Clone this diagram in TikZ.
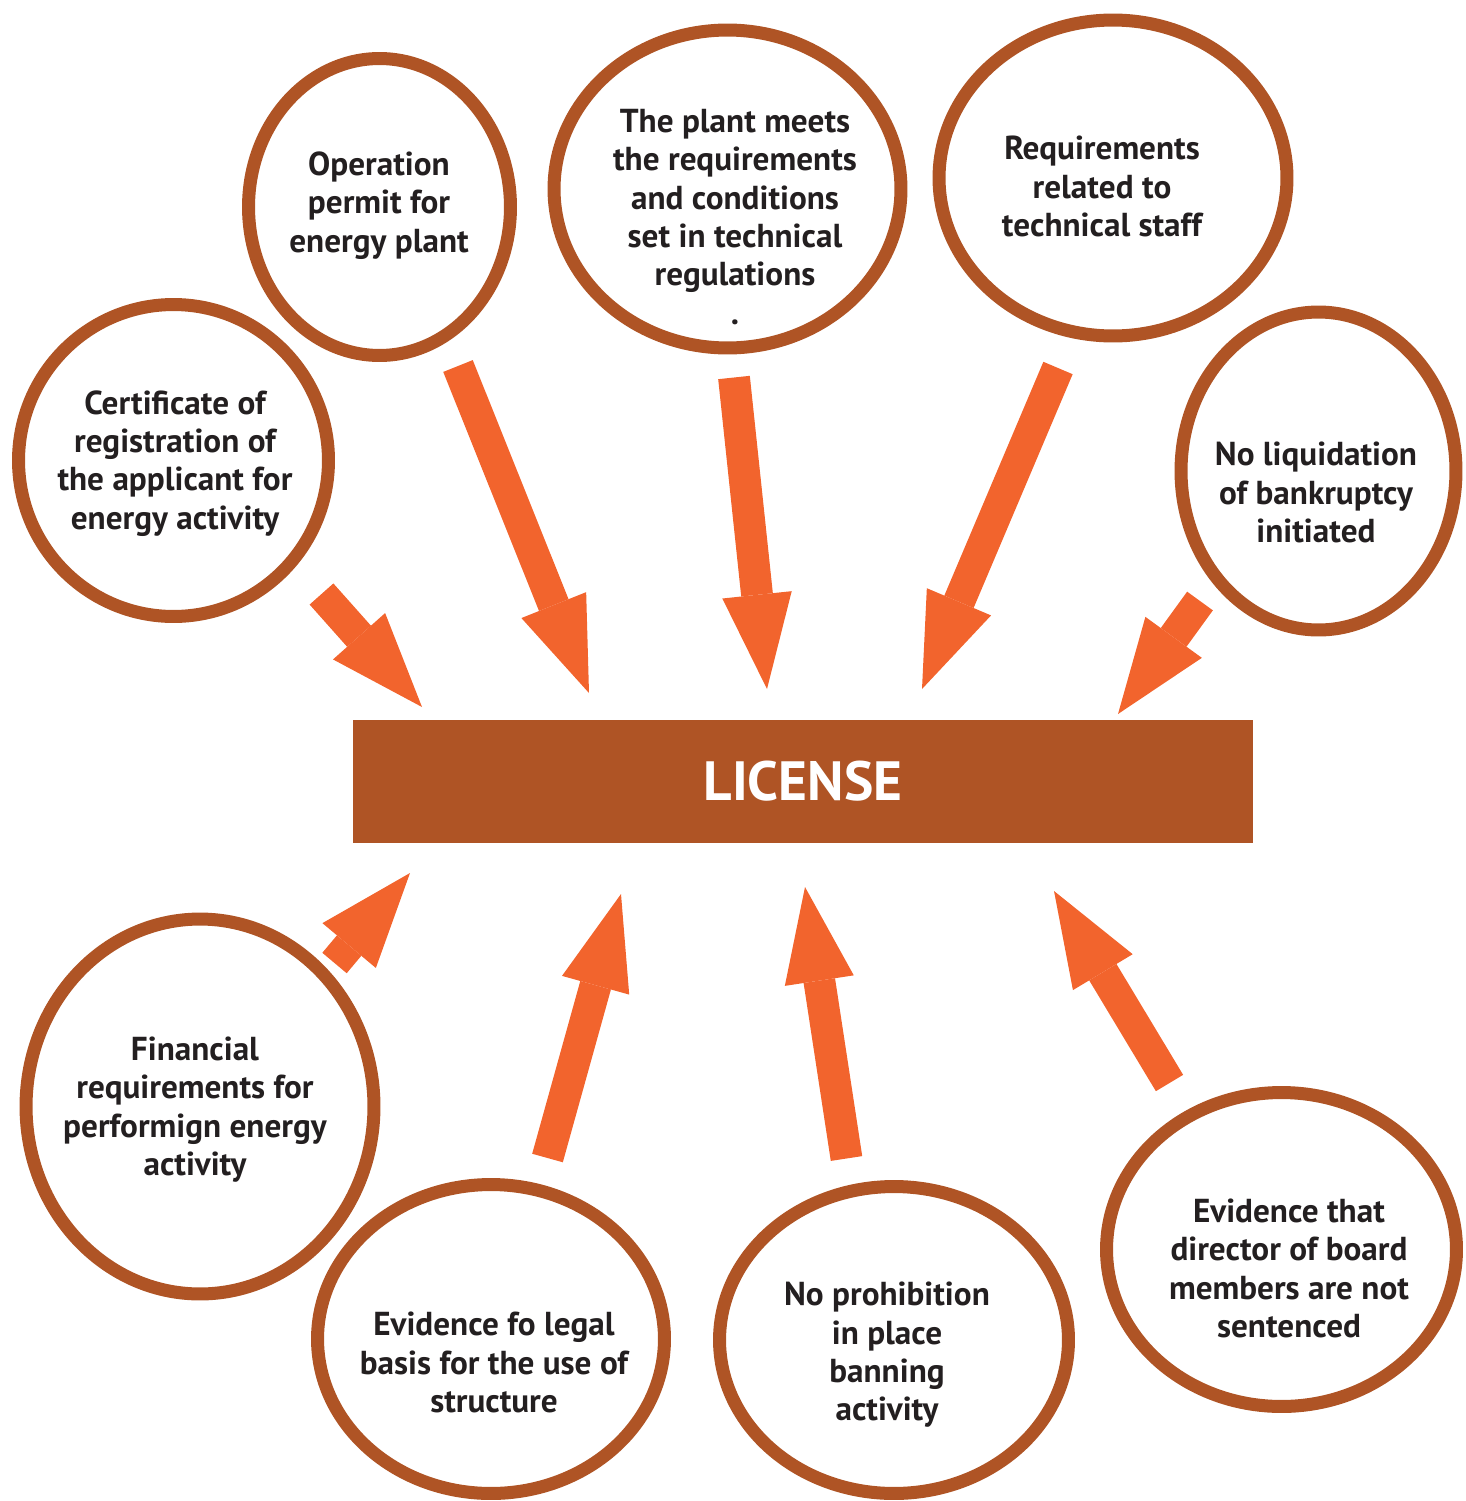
\documentclass[tikz,border=0pt]{standalone}
\usepackage{fontspec}
\setmainfont{PT Sans}
\usepackage{xcolor}
\usepackage{tikz}
\usetikzlibrary{arrows.meta,shapes.geometric}
\definecolor{ringbrown}{HTML}{AF5425}
\definecolor{arroworange}{HTML}{F2642D}
\definecolor{textdark}{HTML}{231F20}

\begin{document}
\begin{tikzpicture}[x=0.02cm, y=-0.02cm,
  ring/.style={ellipse, draw=ringbrown, line width=7.4pt, inner sep=0pt},
  txt/.style={align=center, text=textdark, inner sep=0pt,
    font=\fontsize{18.9}{21.8}\selectfont\bfseries},
  licbox/.style={rectangle, fill=ringbrown, text=white, inner sep=0pt,
    minimum width=18cm, minimum height=2.46cm,
    font=\fontsize{31.5}{36}\selectfont\bfseries},
  fat/.style={draw=arroworange, line width=18.1pt,
    -{Triangle[length=53.9pt, width=39.7pt, line width=0pt]}}]
\useasboundingbox (0,0) rectangle (1465,1501);

% rings
\node[ring, minimum width=5.24cm, minimum height=5.94cm] (permit) at (379.5,207) {};
\node[ring, minimum width=6.94cm, minimum height=6.36cm] (plant) at (727.5,189) {};
\node[ring, minimum width=6.96cm, minimum height=6.32cm] (staff) at (1113,178) {};
\node[ring, minimum width=6.20cm, minimum height=6.24cm] (cert) at (173.5,460.5) {};
\node[ring, minimum width=5.50cm, minimum height=6.36cm] (liquid) at (1318.5,471) {};
\node[ring, minimum width=6.96cm, minimum height=7.50cm] (finance) at (200,1106.5) {};
\node[ring, minimum width=6.94cm, minimum height=6.18cm] (legal) at (491,1339) {};
\node[ring, minimum width=6.98cm, minimum height=6.14cm] (ban) at (894,1340) {};
\node[ring, minimum width=7.00cm, minimum height=6.28cm] (board) at (1281.5,1249.5) {};

% texts
\node[txt] (permitTxt) at (379,205.5) {Operation\\permit for\\energy plant};
\node[txt] (plantTxt) at (735,217) {The plant meets\\the requirements\\and conditions\\set in technical\\regulations\\.};
\node[txt] (staffTxt) at (1102,186.5) {Requirements\\related to\\technical staff};
\node[txt] (certTxt) at (175,463.5) {Certificate of\\registration of\\the applicant for\\energy activity};
\node[txt] (liquidTxt) at (1316,492.5) {No liquidation\\of bankruptcy\\initiated};
\node[txt] (financeTxt) at (195,1109.5) {Financial\\requirements for\\performign energy\\activity};
\node[txt] (legalTxt) at (494,1362.5) {Evidence fo legal\\basis for the use of\\structure};
\node[txt] (banTxt) at (887,1355) {No prohibition\\in place\\banning\\activity};
\node[txt] (boardTxt) at (1289,1268.5) {Evidence that\\director of board\\members are not\\sentenced};

% license
\node[licbox] (license) at (803,781.5) {LICENSE\hspace{10pt}};

% arrow ends
\coordinate (certTail) at (321.5,594);
\coordinate (certTip) at (422,707);
\coordinate (permitTail) at (458,366);
\coordinate (permitTip) at (589,693);
\coordinate (plantTail) at (734,377.5);
\coordinate (plantTip) at (767,689);
\coordinate (staffTail) at (1058,368);
\coordinate (staffTip) at (922,689);
\coordinate (liquidTail) at (1200,601);
\coordinate (liquidTip) at (1118,714);
\coordinate (financeTail) at (334.5,963);
\coordinate (financeTip) at (410,873);
\coordinate (legalTail) at (547.5,1158);
\coordinate (legalTip) at (621,894);
\coordinate (banTail) at (846.5,1158.5);
\coordinate (banTip) at (805,887);
\coordinate (boardTail) at (1169.5,1083);
\coordinate (boardTip) at (1054,891);

\draw[fat] (certTail) -- (certTip);
\draw[fat] (permitTail) -- (permitTip);
\draw[fat] (plantTail) -- (plantTip);
\draw[fat] (staffTail) -- (staffTip);
\draw[fat] (liquidTail) -- (liquidTip);
\draw[fat] (financeTail) -- (financeTip);
\draw[fat] (legalTail) -- (legalTip);
\draw[fat] (banTail) -- (banTip);
\draw[fat] (boardTail) -- (boardTip);
\end{tikzpicture}
\end{document}
